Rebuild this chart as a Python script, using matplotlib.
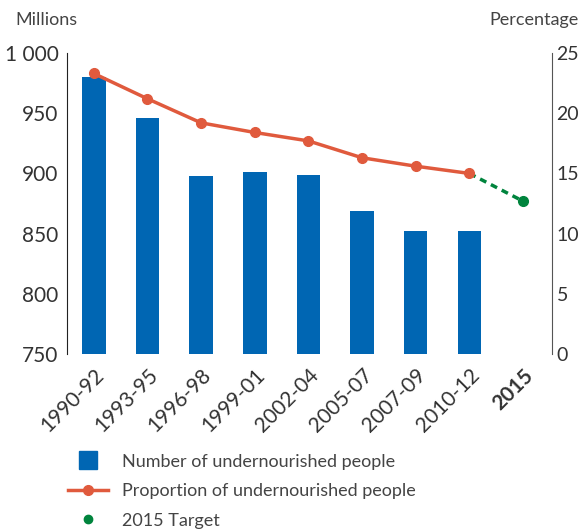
import matplotlib.pyplot as plt
from matplotlib.lines import Line2D

periods = ["1990-92", "1993-95", "1996-98", "1999-01", "2002-04",
           "2005-07", "2007-09", "2010-12", "2015"]
millions = [980, 946, 898, 901, 899, 869, 852, 852]
percent = [23.3, 21.2, 19.2, 18.4, 17.7, 16.3, 15.6, 15.0]
target = 12.7

blue = "#0066b3"
red = "#e05a3d"
green = "#00843d"
plt.rcParams['font.family'] = ['Lato', 'DejaVu Sans']

fig = plt.figure(figsize=(5.8, 5.3), dpi=100)
ax = fig.add_axes([0.1155, 0.332, 0.837, 0.568])
x = list(range(len(periods)))

ax.bar(x[:len(millions)], millions, width=0.44, color=blue, zorder=2)
ax.set_ylim(750, 1000)
ax.set_yticks([750, 800, 850, 900, 950, 1000])
ax.set_yticklabels(["750", "800", "850", "900", "950", "1 000"])
ax.set_xlim(-0.5, 8.55)
ax.set_xticks(x)
ax.set_xticklabels(periods, rotation=45, ha="right", rotation_mode="anchor")
last = ax.get_xticklabels()[-1]
last.set_fontweight("bold")
last.set_color("black")
ax.tick_params(axis="both", length=0, labelsize=15, colors="#333333", pad=6)
ax.tick_params(axis="x", pad=8)
for s in ["top", "right", "bottom"]:
    ax.spines[s].set_visible(False)
ax.spines["left"].set_color("#222222")

ax2 = ax.twinx()
ax2.plot(x[:len(percent)], percent, color=red, lw=2.5, marker="o", ms=7, zorder=3)
ax2.plot([x[len(percent) - 1], x[-1]], [percent[-1], target], color=green,
         lw=2.5, ls=(0, (2, 1.5)), zorder=2)
ax2.plot([x[-1]], [target], "o", color=green, ms=7, zorder=3)
ax2.set_ylim(0, 25)
ax2.set_yticks([0, 5, 10, 15, 20, 25])
ax2.tick_params(axis="y", length=0, labelsize=14, colors="#333333", pad=3)
for s in ["top", "left", "bottom"]:
    ax2.spines[s].set_visible(False)
ax2.spines["right"].set_color("#555555")

fig.text(0.026, 0.962, "Millions", fontsize=13, color="#444444", va="center")
fig.text(0.997, 0.962, "Percentage", fontsize=13, color="#444444", va="center", ha="right")

handles = [
    Line2D([], [], ls="none", marker="s", ms=13, color=blue),
    Line2D([], [], color=red, lw=2.5, marker="o", ms=7),
    Line2D([], [], ls="none", marker="o", ms=6, color=green),
]
labels = ["Number of undernourished people", "Proportion of undernourished people",
          "2015 Target"]
fig.legend(handles, labels, loc="upper left", bbox_to_anchor=(0.117, 0.144),
           frameon=False, fontsize=13, handlelength=2.2, handletextpad=0.8,
           labelspacing=0.75, labelcolor="#444444", borderaxespad=0,
           borderpad=0)

fig.savefig("out.png", dpi=100)
